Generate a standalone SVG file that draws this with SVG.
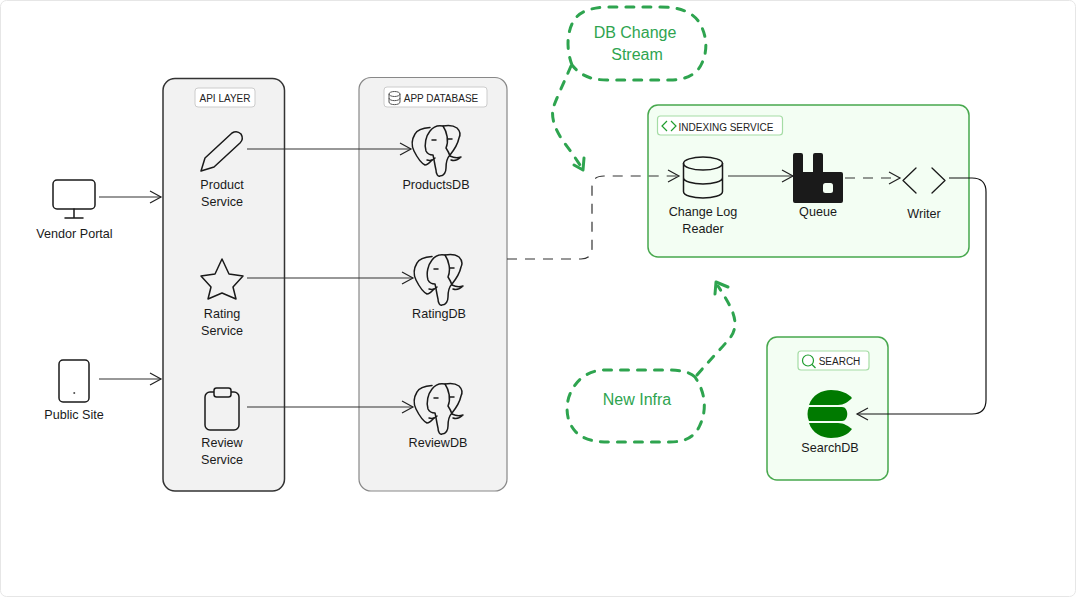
<svg xmlns="http://www.w3.org/2000/svg" xmlns:xlink="http://www.w3.org/1999/xlink" width="1076" height="597" viewBox="0 0 1076 597">
<style>
text{font-family:"Liberation Sans",Arial,sans-serif;font-size:12.6px;fill:#1a1a1a;text-anchor:middle}
.tag{font-size:10px;fill:#222}
.note{font-size:16px;fill:#2ea44f}
.icon{fill:none;stroke:#1a1a1a;stroke-width:1.5;stroke-linejoin:round;stroke-linecap:round}
.tagbox{fill:#fff;stroke:#ccc;stroke-width:1}
.gtag{fill:#fff;stroke:#a5dca5;stroke-width:1.2}
.gbox{fill:#f3fef3;stroke:#47a84d;stroke-width:1.5}
.gi{fill:none;stroke:#1f9d2f;stroke-width:1.2}
.c{fill:none;stroke:#333;stroke-width:1.2}
.d{stroke-dasharray:10 8}
.ah{fill:none;stroke:#222;stroke-width:1.2}
.cloud{fill:none;stroke:#2ea44f;stroke-width:3;stroke-dasharray:8 9;stroke-linecap:round}
.gh{fill:none;stroke:#2ea44f;stroke-width:3;stroke-linecap:round;stroke-linejoin:round}
</style>
<defs>
<marker id="arrow" markerUnits="userSpaceOnUse" markerWidth="14" markerHeight="14" refX="12" refY="7" orient="auto"><path class="ah" d="M1,1 L12,7 L1,13"/></marker>
<symbol id="pg" overflow="visible"><g class="icon">
<path d="M18,1.500C11,2 5,4 3,8C0,13 -1,19 2,25C5,31 9,37 13,39C16,39 18,36 20,34"/>
<path d="M45,2C41,-1 36,-1 31,0C26,-1 21,1 18,5C14,10 12,18 14,25C16,29 19,29 21,29C22,33 23,40 24,44C24,48 26,51 28,50C32,50 34,46 34,42C34,37 35,32 38,29C42,24 46,17 47,12C49,8 47,4 45,2Z"/>
<path d="M31,0C35,6 37,15 34,22C36,25 37,27 38,30C42,32 46,32 49,31C45,35 42,35 39,34"/>
<path d="M15,34C18,35 21,34 23,32"/>
<path d="M20,14l4,0M36,13l4,0"/>
</g></symbol>
</defs>
<rect x=".5" y=".5" width="1075" height="596" rx="6" fill="#fff" stroke="#e6e6e6"/>

<g id="api-layer"><rect x="163" y="78.500" width="121.500" height="412.500" rx="12" fill="#f2f2f2" stroke="#333" stroke-width="1.500"/><rect class="tagbox" x="195" y="88" width="60" height="19" rx="3"/><text class="tag" x="225" y="101.500">API LAYER</text></g>
<g id="app-database"><rect x="359" y="77.500" width="148" height="413.500" rx="12" fill="#f2f2f2" stroke="#888" stroke-width="1.200"/><rect class="tagbox" x="384" y="87" width="103" height="20" rx="3"/><g fill="none" stroke="#555"><ellipse cx="394.500" cy="94" rx="5.500" ry="2.500"/><path d="M389,94v8c0,3.500 11,3.500 11,0v-8M389,98c0,3.500 11,3.500 11,0"/></g><text class="tag" x="441" y="101.500">APP DATABASE</text></g>
<g id="indexing-service"><rect class="gbox" x="648" y="105" width="321" height="152" rx="10"/><rect class="gtag" x="657.500" y="116" width="125" height="19" rx="3"/><path class="gi" d="M667,121l-5,5l5,5M671,121l5,5l-5,5"/><text class="tag" x="726" y="130.500">INDEXING SERVICE</text></g>
<g id="search"><rect class="gbox" x="767" y="337" width="121" height="143" rx="10"/><rect class="gtag" x="798" y="351" width="71" height="19" rx="3"/><circle class="gi" cx="808" cy="360.500" r="5.500"/><path class="gi" d="M812,364.500l3.500,3.500"/><text class="tag" x="839.500" y="364.500">SEARCH</text></g>

<g id="connectors">
<path class="c" d="M99,197H161" marker-end="url(#arrow)"/>
<path class="c" d="M99,379H161" marker-end="url(#arrow)"/>
<path class="c" d="M247,149H411" marker-end="url(#arrow)"/>
<path class="c" d="M247,278H413" marker-end="url(#arrow)"/>
<path class="c" d="M247,407H413" marker-end="url(#arrow)"/>
<path class="c d" d="M507,259H581Q592,259 592,248V187Q592,176 604,176H679" marker-end="url(#arrow)"/>
<path class="c" d="M728,176H793" marker-end="url(#arrow)"/>
<path class="c d" d="M845,178H900" marker-end="url(#arrow)"/>
<path class="c" style="stroke:#111" d="M949,178H972Q986,178 986,192V400Q986,414 972,414H857" marker-end="url(#arrow)"/>
</g>

<g id="vendor-portal"><rect class="icon" x="53" y="180" width="42" height="29" rx="4"/><path class="icon" d="M74,209v9M65,218h18"/><text x="74.500" y="237.500">Vendor Portal</text></g>
<g id="public-site"><rect class="icon" x="59" y="360" width="30" height="42" rx="4"/><path class="icon" d="M74,393h.5"/><text x="74" y="418.500">Public Site</text></g>
<g id="product-service"><path class="icon" d="M201,171L205,158L232,133Q237,130 241,134Q244,139 240,143L214,167Z"/><text x="222" y="189">Product</text><text x="222" y="206">Service</text></g>
<g id="rating-service"><path class="icon" d="M222,259L229,274L243,276L233,287L236,299L222,293L208,299L211,287L201,276L215,274Z"/><text x="222" y="318">Rating</text><text x="222" y="335">Service</text></g>
<g id="review-service"><rect class="icon" x="205" y="392" width="34" height="38" rx="5"/><rect class="icon" x="214" y="388" width="17" height="9" rx="2.500" style="fill:#f2f2f2"/><text x="222" y="447">Review</text><text x="222" y="464">Service</text></g>
<g id="products-db"><use xlink:href="#pg" href="#pg" x="412" y="126"/><text x="436" y="189">ProductsDB</text></g>
<g id="rating-db"><use xlink:href="#pg" href="#pg" x="414" y="255"/><text x="439" y="318">RatingDB</text></g>
<g id="review-db"><use xlink:href="#pg" href="#pg" x="414" y="384"/><text x="438" y="447">ReviewDB</text></g>
<g id="change-log-reader"><g class="icon"><ellipse cx="703" cy="163.500" rx="19.500" ry="6.500"/><path d="M683.500,163.500V191.500C683.500,200 722.500,200 722.500,191.500V163.500M683.500,177.500C683.500,186 722.500,186 722.500,177.500"/></g><text x="703" y="216">Change Log</text><text x="703" y="233">Reader</text></g>
<g id="queue"><path fill="#1a1a1a" d="M793,155q0,-2 2,-2h6q2,0 2,2v17h10v-17q0,-2 2,-2h6q2,0 2,2v17h18q2,0 2,2v27q0,2 -2,2h-46q-2,0 -2,-2z"/><rect x="823" y="183" width="10" height="10" rx="2.500" fill="#f3fef3"/><text x="818" y="216">Queue</text></g>
<g id="writer"><path class="icon" style="stroke-width:1.300" d="M916,168L903,180.500L916,193M932,168L945,180.500L932,193"/><text x="924" y="218">Writer</text></g>
<g id="search-db"><g fill="#007a00"><path d="M809,405C812,395 822,390 831,390C840,390 848,393 852,398C848,402 844,405 838,405Z"/><path d="M809,407H842C849,407 849,421 842,421H809C807,417 807,411 809,407Z"/><path d="M809,423H838C844,423 848,426 852,429C848,435 840,438 831,438C822,438 812,433 809,423Z"/></g><text x="830" y="452">SearchDB</text></g>

<g id="note-db-change"><path class="cloud" d="M572,65C567,52 566,35 573,22C578,12 590,8 605,7H660C680,7 692,12 699,22C707,35 708,50 702,63C697,75 685,80 670,80H607C590,80 580,75 572,65"/><path class="cloud" d="M571,66C565,80 558,95 553,108C550,125 562,140 572,153L580,165"/><path class="gh" d="M574,165L583,170L584,158"/><text class="note" x="635" y="38">DB Change</text><text class="note" x="637" y="60">Stream</text></g>
<g id="note-new-infra"><path class="cloud" d="M695,377C690,372 680,370 670,370H605C590,370 578,378 572,390C565,402 565,420 575,431C583,440 595,442 610,442H670C685,442 695,437 700,425C706,412 707,395 695,377"/><path class="cloud" d="M697,375C708,362 720,350 730,338C742,322 730,305 718,286"/><path class="gh" d="M715,294L716,282L728,287"/><text class="note" x="637" y="405">New Infra</text></g>
</svg>
